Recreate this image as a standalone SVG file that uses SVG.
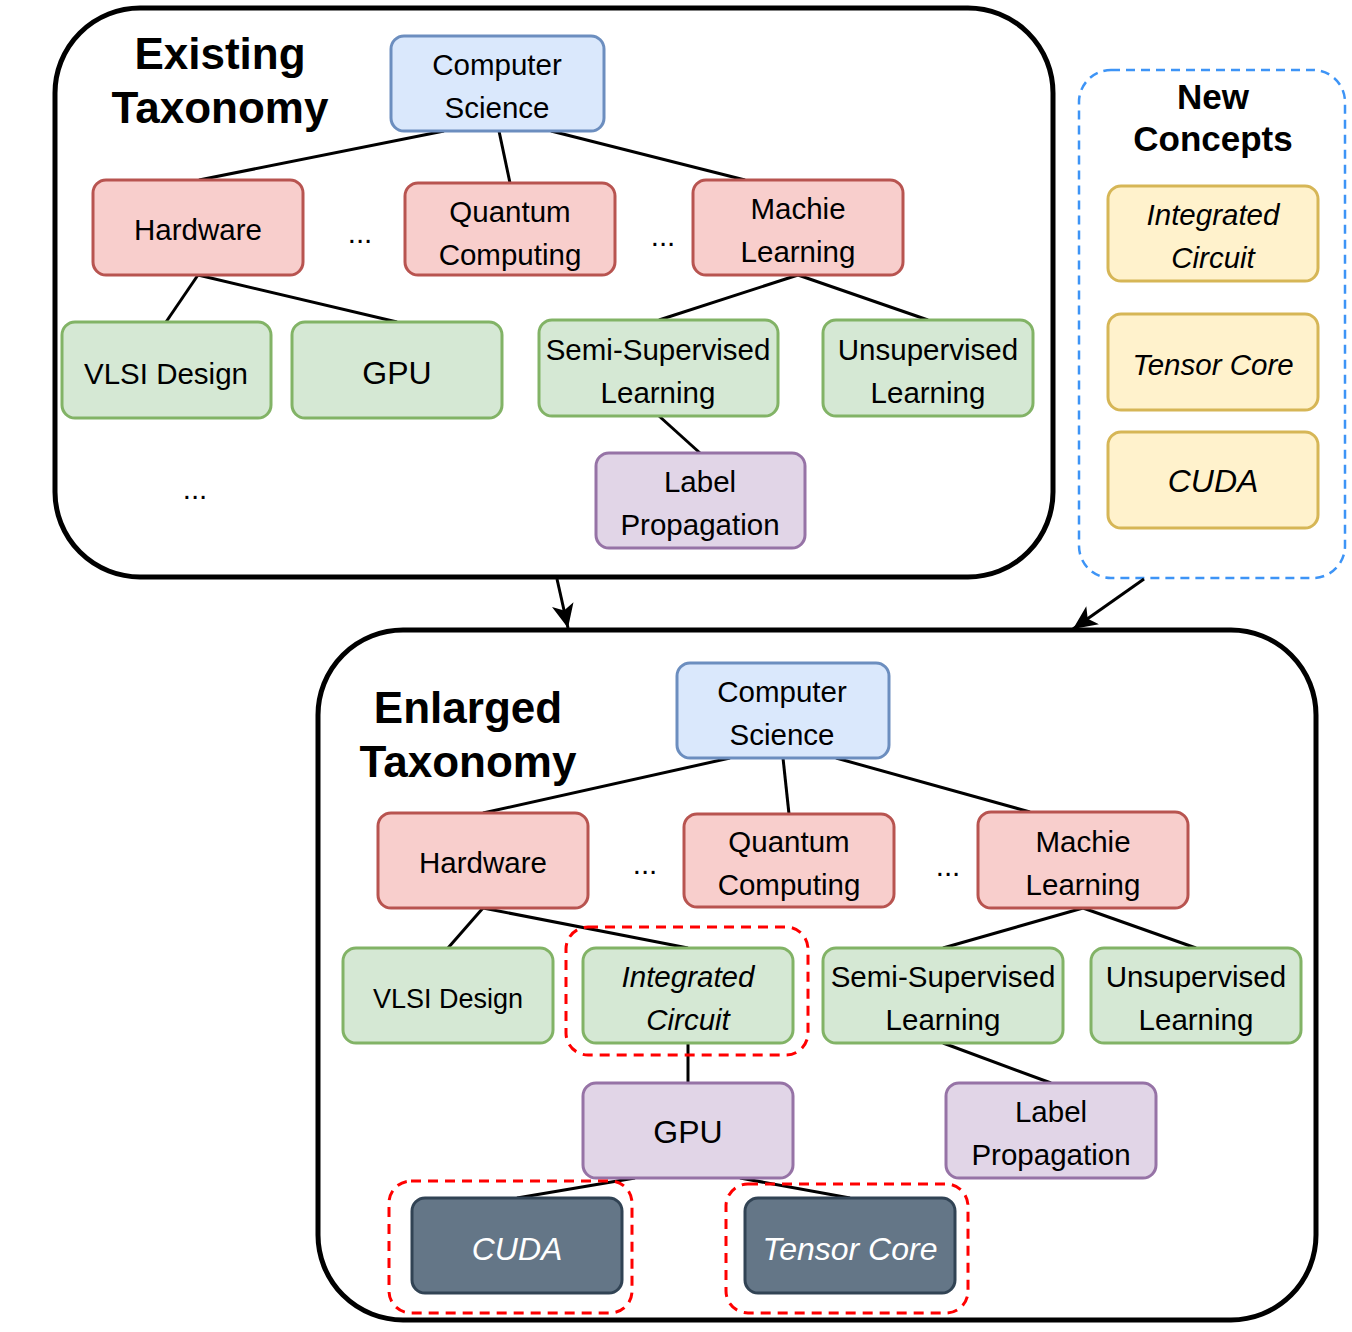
<svg xmlns="http://www.w3.org/2000/svg" width="1352" height="1332" viewBox="0 0 1352 1332">
<defs>
<style>
.t{font-family:"Liberation Sans",Arial,sans-serif;font-size:29.5px;fill:#000;text-anchor:middle}
.i{font-style:italic}
.big{font-size:32px}
.sm{font-size:27px}
.w{fill:#fff}
.title{font-family:"Liberation Sans",Arial,sans-serif;font-weight:bold;font-size:44px;text-anchor:middle;fill:#000}
.blue{fill:#dae8fc;stroke:#6c8ebf;stroke-width:3}
.red{fill:#f8cecc;stroke:#b85450;stroke-width:3}
.green{fill:#d5e8d4;stroke:#82b366;stroke-width:3}
.purple{fill:#e1d5e7;stroke:#9673a6;stroke-width:3}
.yellow{fill:#fff2cc;stroke:#d6b656;stroke-width:3}
.dark{fill:#647687;stroke:#314354;stroke-width:3}
.edge{stroke:#000;stroke-width:3;fill:none}
.hl{fill:none;stroke:#ff0000;stroke-width:3;stroke-dasharray:10 7}
</style>
<marker id="arr" markerWidth="26" markerHeight="24" refX="24" refY="12" orient="auto" markerUnits="userSpaceOnUse">
<path d="M0,1 L24,12 L0,23 L6,12 Z" fill="#000"/>
</marker>
</defs>

<g id="existing-container">
<rect x="55" y="8" width="998" height="569" rx="85" ry="85" fill="none" stroke="#000" stroke-width="5"/>
<text class="title" x="220" y="69">Existing</text>
<text class="title" x="220" y="123">Taxonomy</text>
</g>

<g id="new-concepts-container">
<rect x="1079" y="70" width="266" height="508" rx="32" ry="32" fill="none" stroke="#3d94f6" stroke-width="2.5" stroke-dasharray="9 6"/>
<text class="title" x="1213" y="109" style="font-size:35px">New</text>
<text class="title" x="1213" y="151" style="font-size:35px">Concepts</text>
</g>

<g id="enlarged-container">
<rect x="318" y="630" width="998" height="690" rx="85" ry="85" fill="none" stroke="#000" stroke-width="5"/>
<text class="title" x="468" y="723">Enlarged</text>
<text class="title" x="468" y="777">Taxonomy</text>
</g>

<g id="connectors">
<line class="edge" x1="444" y1="131" x2="199" y2="180"/>
<line class="edge" x1="499" y1="131" x2="510" y2="183"/>
<line class="edge" x1="551" y1="131" x2="745" y2="180"/>
<line class="edge" x1="198" y1="275" x2="166" y2="322"/>
<line class="edge" x1="198" y1="275" x2="397" y2="322"/>
<line class="edge" x1="798" y1="275" x2="659" y2="320"/>
<line class="edge" x1="798" y1="275" x2="928" y2="320"/>
<line class="edge" x1="659" y1="416" x2="700" y2="453"/>

<line class="edge" x1="557" y1="579" x2="568" y2="628" marker-end="url(#arr)"/>
<line class="edge" x1="1144" y1="579" x2="1073" y2="629" marker-end="url(#arr)"/>

<line class="edge" x1="730" y1="758" x2="483" y2="813"/>
<line class="edge" x1="783" y1="758" x2="789" y2="814"/>
<line class="edge" x1="836" y1="758" x2="1030" y2="812"/>
<line class="edge" x1="483" y1="908" x2="448" y2="948"/>
<line class="edge" x1="483" y1="908" x2="688" y2="948"/>
<line class="edge" x1="688" y1="1043" x2="688" y2="1083"/>
<line class="edge" x1="1083" y1="908" x2="943" y2="948"/>
<line class="edge" x1="1083" y1="908" x2="1196" y2="948"/>
<line class="edge" x1="943" y1="1043" x2="1051" y2="1083"/>
<line class="edge" x1="635" y1="1178" x2="517" y2="1198"/>
<line class="edge" x1="740" y1="1178" x2="850" y2="1198"/>
</g>

<!-- Existing taxonomy nodes -->
<g id="e-cs"><rect class="blue" x="391" y="36" width="213" height="95" rx="13"/><text class="t" x="497" y="75">Computer</text><text class="t" x="497" y="118">Science</text></g>
<g id="e-hardware"><rect class="red" x="93" y="180" width="210" height="95" rx="13"/><text class="t" x="198" y="240">Hardware</text></g>
<g id="e-dots1"><text class="t" x="360" y="243">...</text></g>
<g id="e-quantum"><rect class="red" x="405" y="183" width="210" height="92" rx="13"/><text class="t" x="510" y="222">Quantum</text><text class="t" x="510" y="265">Computing</text></g>
<g id="e-dots2"><text class="t" x="663" y="246">...</text></g>
<g id="e-ml"><rect class="red" x="693" y="180" width="210" height="95" rx="13"/><text class="t" x="798" y="219">Machie</text><text class="t" x="798" y="262">Learning</text></g>
<g id="e-vlsi"><rect class="green" x="62" y="322" width="209" height="96" rx="13"/><text class="t" x="166" y="384">VLSI Design</text></g>
<g id="e-gpu"><rect class="green" x="292" y="322" width="210" height="96" rx="13"/><text class="t big" x="397" y="384">GPU</text></g>
<g id="e-semi"><rect class="green" x="539" y="320" width="239" height="96" rx="13"/><text class="t" x="658" y="360">Semi-Supervised</text><text class="t" x="658" y="403">Learning</text></g>
<g id="e-unsup"><rect class="green" x="823" y="320" width="210" height="96" rx="13"/><text class="t" x="928" y="360">Unsupervised</text><text class="t" x="928" y="403">Learning</text></g>
<g id="e-label"><rect class="purple" x="596" y="453" width="209" height="95" rx="13"/><text class="t" x="700" y="492">Label</text><text class="t" x="700" y="535">Propagation</text></g>
<g id="e-dots3"><text class="t" x="195" y="499">...</text></g>

<!-- New concepts -->
<g id="n-ic"><rect class="yellow" x="1108" y="186" width="210" height="95" rx="13"/><text class="t i" x="1213" y="225">Integrated</text><text class="t i" x="1213" y="268">Circuit</text></g>
<g id="n-tensor"><rect class="yellow" x="1108" y="314" width="210" height="96" rx="13"/><text class="t i" x="1213" y="375">Tensor Core</text></g>
<g id="n-cuda"><rect class="yellow" x="1108" y="432" width="210" height="96" rx="13"/><text class="t i big" x="1213" y="492">CUDA</text></g>

<!-- Enlarged taxonomy nodes -->
<g id="l-cs"><rect class="blue" x="677" y="663" width="212" height="95" rx="13"/><text class="t" x="782" y="702">Computer</text><text class="t" x="782" y="745">Science</text></g>
<g id="l-hardware"><rect class="red" x="378" y="813" width="210" height="95" rx="13"/><text class="t" x="483" y="873">Hardware</text></g>
<g id="l-dots1"><text class="t" x="645" y="874">...</text></g>
<g id="l-quantum"><rect class="red" x="684" y="814" width="210" height="93" rx="13"/><text class="t" x="789" y="852">Quantum</text><text class="t" x="789" y="895">Computing</text></g>
<g id="l-dots2"><text class="t" x="948" y="876">...</text></g>
<g id="l-ml"><rect class="red" x="978" y="812" width="210" height="96" rx="13"/><text class="t" x="1083" y="852">Machie</text><text class="t" x="1083" y="895">Learning</text></g>
<g id="l-vlsi"><rect class="green" x="343" y="948" width="210" height="95" rx="13"/><text class="t sm" x="448" y="1008">VLSI Design</text></g>
<g id="l-ic"><rect class="hl" x="566" y="927" width="242" height="128" rx="22"/><rect class="green" x="583" y="948" width="210" height="95" rx="13"/><text class="t i" x="688" y="987">Integrated</text><text class="t i" x="688" y="1030">Circuit</text></g>
<g id="l-semi"><rect class="green" x="823" y="948" width="240" height="95" rx="13"/><text class="t" x="943" y="987">Semi-Supervised</text><text class="t" x="943" y="1030">Learning</text></g>
<g id="l-unsup"><rect class="green" x="1091" y="948" width="210" height="95" rx="13"/><text class="t" x="1196" y="987">Unsupervised</text><text class="t" x="1196" y="1030">Learning</text></g>
<g id="l-gpu"><rect class="purple" x="583" y="1083" width="210" height="95" rx="13"/><text class="t big" x="688" y="1143">GPU</text></g>
<g id="l-label"><rect class="purple" x="946" y="1083" width="210" height="95" rx="13"/><text class="t" x="1051" y="1122">Label</text><text class="t" x="1051" y="1165">Propagation</text></g>
<g id="l-cuda"><rect class="hl" x="389" y="1181" width="243" height="132" rx="22"/><rect class="dark" x="412" y="1198" width="210" height="95" rx="13"/><text class="t i big w" x="517" y="1260">CUDA</text></g>
<g id="l-tensor"><rect class="hl" x="726" y="1184" width="242" height="129" rx="22"/><rect class="dark" x="745" y="1198" width="210" height="95" rx="13"/><text class="t i big w" x="850" y="1260">Tensor Core</text></g>
</svg>
